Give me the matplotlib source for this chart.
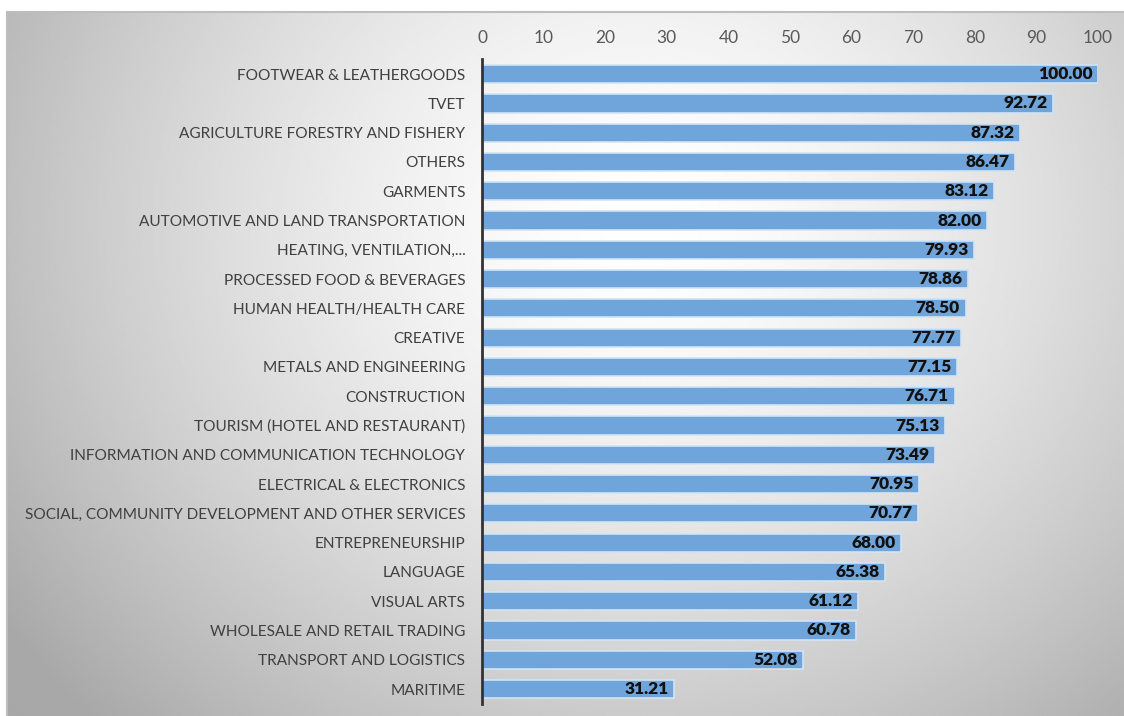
import numpy as np
import matplotlib
matplotlib.use("Agg")
import matplotlib.pyplot as plt
from matplotlib.patches import Rectangle

categories = [
    "FOOTWEAR & LEATHERGOODS",
    "TVET",
    "AGRICULTURE FORESTRY AND FISHERY",
    "OTHERS",
    "GARMENTS",
    "AUTOMOTIVE AND LAND TRANSPORTATION",
    "HEATING, VENTILATION,...",
    "PROCESSED FOOD & BEVERAGES",
    "HUMAN HEALTH/HEALTH CARE",
    "CREATIVE",
    "METALS AND ENGINEERING",
    "CONSTRUCTION",
    "TOURISM (HOTEL AND RESTAURANT)",
    "INFORMATION AND COMMUNICATION TECHNOLOGY",
    "ELECTRICAL & ELECTRONICS",
    "SOCIAL, COMMUNITY DEVELOPMENT AND OTHER SERVICES",
    "ENTREPRENEURSHIP",
    "LANGUAGE",
    "VISUAL ARTS",
    "WHOLESALE AND RETAIL TRADING",
    "TRANSPORT AND LOGISTICS",
    "MARITIME",
]
values = [100.00, 92.72, 87.32, 86.47, 83.12, 82.00, 79.93, 78.86, 78.50, 77.77,
          77.15, 76.71, 75.13, 73.49, 70.95, 70.77, 68.00, 65.38, 61.12, 60.78,
          52.08, 31.21]
xticks = [0, 10, 20, 30, 40, 50, 60, 70, 80, 90, 100]

plt.rcParams['font.family'] = ['Lato', 'DejaVu Sans']

W, H = 1124, 716
fig = plt.figure(figsize=(W / 100, H / 100), dpi=100)
fig.patch.set_facecolor('white')

# grey panel with a soft radial fade towards the edges
px0, py0 = 7, 12
bg = fig.add_axes([px0 / W, 0, 1 - px0 / W, 1 - py0 / H], zorder=0)
gx, gy = np.meshgrid(np.linspace(px0, W, 400), np.linspace(py0, H, 300))
r = np.sqrt(((gx - 640) / 600) ** 2 + ((gy - 220) / 540) ** 2)
shade = 1 - 0.23 * np.clip(r, 0, 1.3) ** 1.5
bg.imshow(shade, cmap='gray', vmin=0, vmax=1, aspect='auto',
          extent=[0, 1, 0, 1], interpolation='bilinear')
bg.set_xlim(0, 1)
bg.set_ylim(0, 1)
bg.axis('off')
fig.add_artist(Rectangle((px0 / W, -0.01), 1.01, 1 - py0 / H + 0.01,
                         transform=fig.transFigure, fill=False,
                         edgecolor='#bdbdbd', linewidth=1.5, zorder=1))

ax = fig.add_axes([482 / W, 1 - 703.7 / H, 616 / W, 644.2 / H], zorder=2)
ax.patch.set_alpha(0)

y = np.arange(len(categories))
bars = ax.barh(y, values, height=0.62, color='#6fa5da',
               edgecolor='#d2e4f5', linewidth=1.2)
ax.set_ylim(len(categories) - 0.5, -0.5)
ax.set_xlim(0, 100)

for b, v in zip(bars, values):
    ax.text(v - 0.9, b.get_y() + b.get_height() / 2, f"{v:.2f}",
            ha='right', va='center', fontsize=12.5, fontweight='heavy',
            color='#111111')

ax.set_yticks(y)
ax.set_yticklabels(categories, fontsize=11.1, color='#404040')
ax.set_xticks(xticks)
ax.set_xticklabels([str(t) for t in xticks], fontsize=12.5, color='#595959')
ax.xaxis.tick_top()
ax.tick_params(axis='x', length=0, pad=10)
ax.tick_params(axis='y', length=0, pad=12)

for s in ['top', 'right', 'bottom']:
    ax.spines[s].set_visible(False)
ax.spines['left'].set_color('#333333')
ax.spines['left'].set_linewidth(2)

fig.savefig('out.png', dpi=100)
